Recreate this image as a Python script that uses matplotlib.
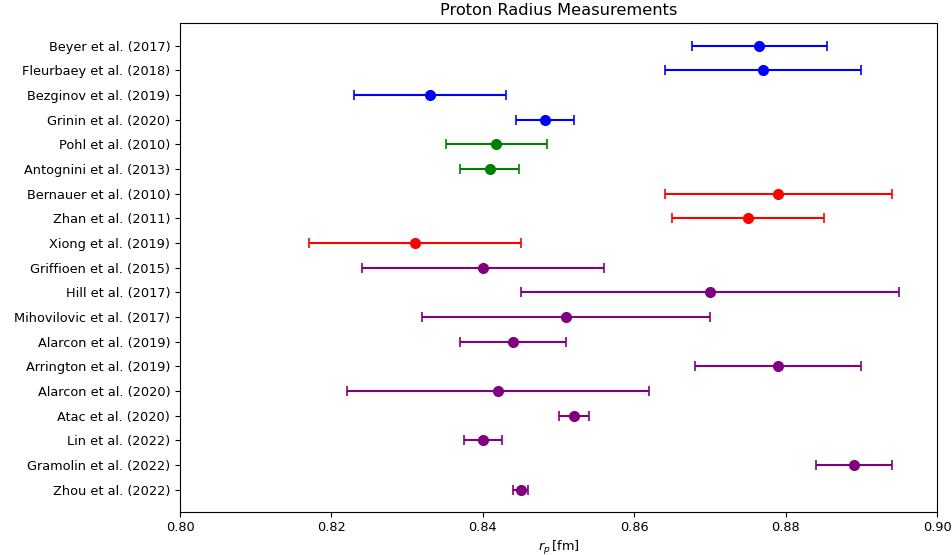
import matplotlib
matplotlib.use("Agg")
import matplotlib.pyplot as plt

# Proton radius values [fm] and symmetric uncertainties, top to bottom
labels = [
    "Beyer et al. (2017)", "Fleurbaey et al. (2018)", "Bezginov et al. (2019)",
    "Grinin et al. (2020)", "Pohl et al. (2010)", "Antognini et al. (2013)",
    "Bernauer et al. (2010)", "Zhan et al. (2011)", "Xiong et al. (2019)",
    "Griffioen et al. (2015)", "Hill et al. (2017)", "Mihovilovic et al. (2017)",
    "Alarcon et al. (2019)", "Arrington et al. (2019)", "Alarcon et al. (2020)",
    "Atac et al. (2020)", "Lin et al. (2022)", "Gramolin et al. (2022)",
    "Zhou et al. (2022)",
]
radius = [0.8765, 0.8770, 0.8330, 0.8482, 0.8418, 0.8409, 0.8790, 0.8750, 0.8310,
          0.8400, 0.8700, 0.8510, 0.8440, 0.8790, 0.8420, 0.8520, 0.8400, 0.8890,
          0.8450]
errors = [0.0089, 0.0130, 0.0100, 0.0038, 0.0067, 0.0039, 0.0150, 0.0100, 0.0140,
          0.0160, 0.0250, 0.0190, 0.0070, 0.0110, 0.0200, 0.0020, 0.0025, 0.0050,
          0.0010]
colors = ["blue"] * 4 + ["green"] * 2 + ["red"] * 3 + ["purple"] * 10

plt.rcParams["font.size"] = 9.3

fig = plt.figure(figsize=(9.53, 5.55), dpi=100)
ax = fig.add_axes([0.1889, 0.078, 0.7944, 0.880])

for i, (r, e, c) in enumerate(zip(radius, errors, colors)):
    ax.errorbar(r, i, xerr=e, fmt="o", color=c, ecolor=c,
                markersize=7, capsize=3.5, elinewidth=1.5, capthick=1.2)

ax.set_yticks(range(len(labels)))
ax.set_yticklabels(labels)
ax.invert_yaxis()
ax.set_xlim(0.80, 0.90)
ax.set_xlabel(r"$r_p\,$[fm]", labelpad=3)
ax.set_title("Proton Radius Measurements", fontsize=11.7)

fig.savefig("out.png", dpi=100)
